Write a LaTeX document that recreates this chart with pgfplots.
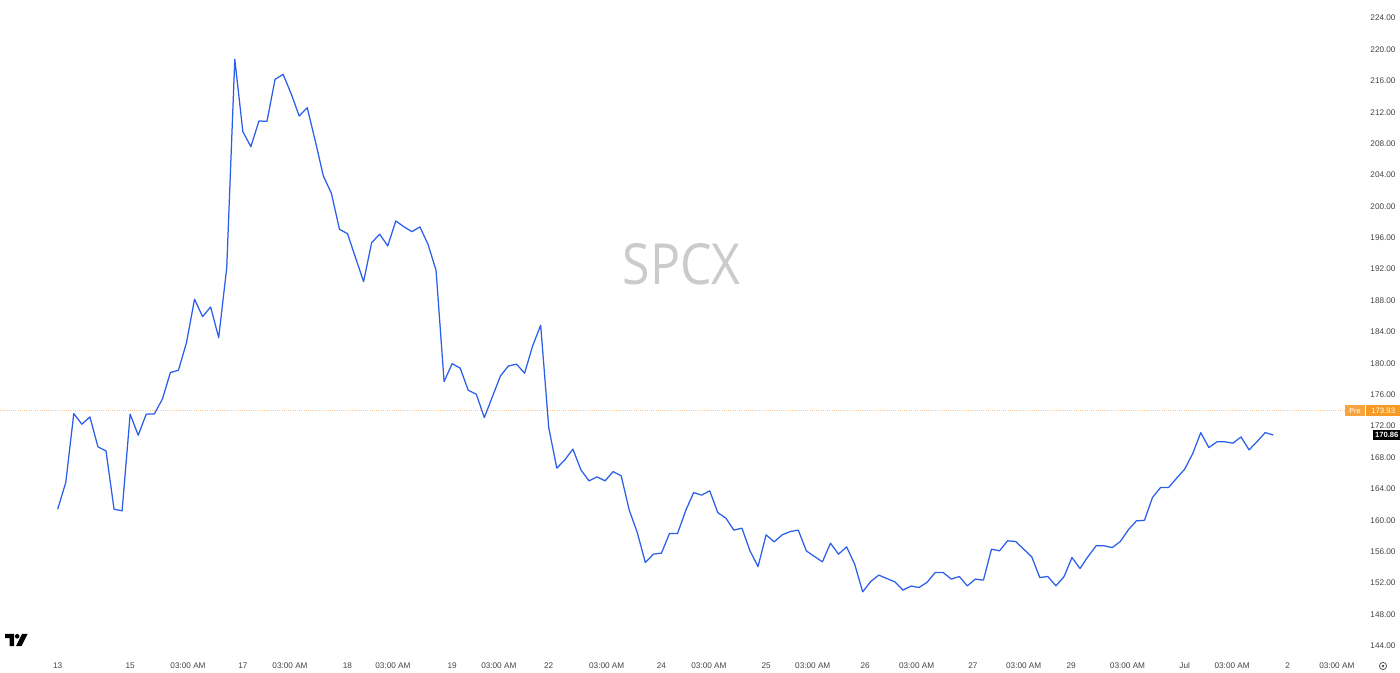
\documentclass[border=0pt]{standalone}
\usepackage{pgfplots}
\usepackage{pgfplotstable}
\pgfplotsset{compat=1.18}
\usepackage{fontspec}
\setmainfont{Liberation Sans}
\newfontfamily\wmfont{Open Sans}
\definecolor{tvblue}{HTML}{2B5FEA}
\definecolor{tvorange}{HTML}{F79A24}
\definecolor{preorange}{HTML}{F7A540}
\definecolor{dotorange}{HTML}{F8C595}
\definecolor{labelgray}{HTML}{454545}
\definecolor{wmgray}{HTML}{CBCBCB}

\pgfplotstableread{
i v
0 161.41
1 164.80
2 173.59
3 172.24
4 173.17
5 169.35
6 168.84
7 161.41
8 161.20
9 173.52
10 170.84
11 173.52
12 173.55
13 175.43
14 178.82
15 179.12
16 182.64
17 188.17
18 185.95
19 187.18
20 183.27
21 192.19
22 218.74
23 209.52
24 207.61
25 210.88
26 210.84
27 216.19
28 216.83
29 214.36
30 211.52
31 212.57
32 208.33
33 203.87
34 201.67
35 197.08
36 196.52
37 193.46
38 190.41
39 195.38
40 196.45
41 194.96
42 198.14
43 197.41
44 196.78
45 197.38
46 195.17
47 191.86
48 177.67
49 179.96
50 179.38
51 176.57
52 176.06
53 173.08
54 175.75
55 178.39
56 179.67
57 179.89
58 178.74
59 182.22
60 184.85
61 171.81
62 166.64
63 167.69
64 169.06
65 166.42
66 165.02
67 165.53
68 165.02
69 166.20
70 165.66
71 161.29
72 158.43
73 154.61
74 155.68
75 155.81
76 158.31
77 158.31
78 161.20
79 163.53
80 163.20
81 163.75
82 160.98
83 160.27
84 158.74
85 158.99
86 156.10
87 154.10
88 158.14
89 157.25
90 158.14
91 158.56
92 158.74
93 156.10
94 155.38
95 154.70
96 157.08
97 155.68
98 156.61
99 154.41
100 150.88
101 152.19
102 153.01
103 152.57
104 152.15
105 151.10
106 151.61
107 151.43
108 152.09
109 153.34
110 153.34
111 152.50
112 152.83
113 151.64
114 152.50
115 152.37
116 156.32
117 156.10
118 157.38
119 157.29
120 156.32
121 155.34
122 152.70
123 152.83
124 151.64
125 152.79
126 155.25
127 153.85
128 155.38
129 156.74
130 156.74
131 156.52
132 157.29
133 158.78
134 159.92
135 159.99
136 162.89
137 164.17
138 164.17
139 165.36
140 166.51
141 168.50
142 171.17
143 169.26
144 169.99
145 169.99
146 169.82
147 170.62
148 168.97
149 170.03
150 171.17
151 170.86
}\pricedata

\begin{document}
\begin{tikzpicture}
\useasboundingbox (0pt,0pt) rectangle (1400pt,672pt);
\fill[white] (0pt,0pt) rectangle (1400pt,672pt);
\begin{axis}[
  at={(0pt,16pt)}, anchor=south west,
  width=1360pt, height=656pt, scale only axis,
  xmin=-7.168, xmax=161.78, ymin=142.7, ymax=226.3,
  axis line style={draw=none},
  major tick length=0pt,
  clip=false,
  ytick={144,148,...,224},
  yticklabels={144.00,148.00,152.00,156.00,160.00,164.00,168.00,172.00,176.00,180.00,184.00,188.00,192.00,196.00,200.00,204.00,208.00,212.00,216.00,220.00,224.00},
  yticklabel pos=right,
  yticklabel style={anchor=center, xshift=23pt, font=\fontsize{8.2}{9}\selectfont, text=labelgray},
  xtick={0,9,16.19,23,28.86,36,41.65,49,54.8,61,68.2,75,80.9,88,93.8,100.3,106.7,113.7,120.0,125.9,132.9,140.0,145.9,152.8,158.9},
  xticklabels={13,15,03:00 AM,17,03:00 AM,18,03:00 AM,19,03:00 AM,22,03:00 AM,24,03:00 AM,25,03:00 AM,26,03:00 AM,27,03:00 AM,29,03:00 AM,Jul,03:00 AM,2,03:00 AM},
  xticklabel style={anchor=center, yshift=-10pt, font=\fontsize{8.2}{9}\selectfont, text=labelgray},
]
% watermark
\node[text=wmgray, inner sep=0pt] at (axis cs:77.5,192.6) {\resizebox{118pt}{41pt}{\wmfont SPCX}};
% pre-market dotted line
\addplot[dotorange, line width=0.9pt, dash pattern=on 1pt off 1.2pt] coordinates {(-7.168,173.93) (160.0,173.93)};
% price line
\addplot[tvblue, line width=1.25pt, line join=round] table[x=i, y=v] {\pricedata};
% tags
\node[fill=preorange, text=white, inner sep=0pt, minimum width=20pt, minimum height=11pt, font=\fontsize{7.2}{8}\selectfont] at ([xshift=-5pt]axis cs:161.78,173.93) {Pre};
\node[fill=tvorange, text=white, inner sep=0pt, minimum width=35pt, minimum height=11pt, font=\fontsize{7.8}{8}\selectfont, anchor=west] at ([xshift=5.5pt]axis cs:161.78,173.93) {173.93};
\node[fill=black, text=white, inner sep=0pt, minimum width=27.5pt, minimum height=10.5pt, font=\bfseries\fontsize{7.6}{8}\selectfont, anchor=west] at ([xshift=12.8pt]axis cs:161.78,170.86) {170.86};
\end{axis}
% gear icon
\draw[labelgray, line width=0.7pt] (1383pt,6pt) circle (3.6pt);
\fill[labelgray] (1383pt,6pt) circle (1.3pt);
% logo
\fill[black] (5pt,38pt) -- (14pt,38pt) -- (14pt,26pt) -- (9.5pt,26pt) -- (9.5pt,33.8pt) -- (5pt,33.8pt) -- cycle;
\fill[black] (17.2pt,35.7pt) circle (2.3pt);
\fill[black] (22pt,38pt) -- (27.5pt,38pt) -- (21.5pt,26pt) -- (16pt,26pt) -- cycle;
\end{tikzpicture}
\end{document}
